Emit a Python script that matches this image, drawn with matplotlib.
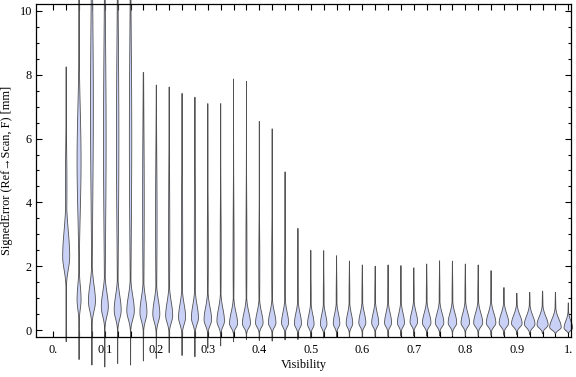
import numpy as np
import matplotlib
matplotlib.use("Agg")
import matplotlib.pyplot as plt
from matplotlib.ticker import FixedLocator, MultipleLocator

# ---------------- data ----------------
visibility = [0.025, 0.05, 0.075, 0.1, 0.125, 0.15, 0.175, 0.2, 0.225, 0.25,
              0.275, 0.3, 0.325, 0.35, 0.375, 0.4, 0.425, 0.45, 0.475, 0.5,
              0.525, 0.55, 0.575, 0.6, 0.625, 0.65, 0.675, 0.7, 0.725, 0.75,
              0.775, 0.8, 0.825, 0.85, 0.875, 0.9, 0.925, 0.95, 0.975, 1.0]
# extreme values (tails)
err_max = [8.25, 13.0, 13.0, 13.0, 13.0, 13.0, 8.07, 7.68, 7.62, 7.42,
           7.30, 7.10, 7.10, 7.87, 7.80, 6.54, 6.31, 4.96, 3.19, 2.50,
           2.49, 2.33, 2.16, 2.04, 2.00, 2.04, 2.02, 1.95, 2.07, 2.17,
           2.16, 2.07, 2.04, 1.86, 1.33, 1.15, 1.18, 1.22, 1.18, 0.85]
err_min = [-0.37, -0.93, -1.10, -1.16, -1.05, -1.10, -0.97, -0.89, -0.71, -0.80,
           -0.84, -0.57, -0.50, -0.37, -0.30, -0.33, -0.35, -0.31, -0.30, -0.26,
           -0.25, -0.23, -0.22, -0.22, -0.20, -0.20, -0.19, -0.19, -0.19, -0.18,
           -0.18, -0.18, -0.18, -0.17, -0.17, -0.15, -0.15, -0.12, -0.10, -0.08]
# main density mode and its relative density
err_mode = [2.3, 0.95, 0.9, 0.72, 0.62, 0.6, 0.55, 0.5, 0.45, 0.4,
            0.38, 0.32, 0.28, 0.2, 0.2, 0.22, 0.22, 0.22, 0.2, 0.18,
            0.18, 0.2, 0.2, 0.22, 0.22, 0.22, 0.22, 0.25, 0.22, 0.22,
            0.22, 0.22, 0.22, 0.22, 0.22, 0.2, 0.18, 0.16, 0.08, 0.06]
mode_density = [7, 4, 7, 7, 7, 7.5, 7, 7, 7, 7,
                7, 7.5, 7.5, 8, 8, 7.5, 7.5, 7, 7, 6.5,
                6.5, 6.5, 6.5, 7, 7, 7, 7, 7.5, 8.5, 8.5,
                8.5, 8.5, 9, 9.5, 9.5, 10.5, 10.5, 11, 11.5, 8.5]
spread_up = [0.8, 0.45, 0.5, 0.45, 0.45, 0.45, 0.45, 0.42, 0.42, 0.4,
             0.4, 0.38, 0.38, 0.35, 0.35, 0.33, 0.33, 0.33, 0.32, 0.3,
             0.3, 0.3, 0.3, 0.3, 0.3, 0.3, 0.3, 0.3, 0.3, 0.3,
             0.3, 0.3, 0.3, 0.3, 0.28, 0.26, 0.26, 0.26, 0.26, 0.22]
spread_down = [0.4, 0.3, 0.3, 0.28, 0.26, 0.26, 0.25, 0.24, 0.22, 0.22,
               0.2, 0.18, 0.17, 0.13, 0.13, 0.13, 0.13, 0.13, 0.13, 0.12,
               0.12, 0.12, 0.12, 0.12, 0.12, 0.12, 0.12, 0.12, 0.12, 0.12,
               0.12, 0.12, 0.12, 0.12, 0.12, 0.11, 0.11, 0.1, 0.08, 0.07]
# secondary (upper) body of the distribution
body_center = [4.5, 5.3, 7.0, 6.0, 6.0, 6.0, 4.0, 3.5, 3.0, 3.0,
               3.0, 2.5, 2.5, 2.5, 2.5, 2.0, 2.0, 1.5, 1.0, 1.0,
               1.0, 1.0, 1.0, 1.0, 1.0, 1.0, 1.0, 1.0, 1.0, 1.0,
               1.0, 1.0, 1.0, 1.0, 0.8, 0.7, 0.7, 0.7, 0.6, 0.5]
body_density = [1.5, 4.0, 2.8, 2.6, 2.4, 2.4, 1.6, 1.5, 1.2, 1.2,
                1.2, 1.0, 1.0, 1.0, 1.0, 1.0, 1.0, 1.0, 0.8, 0.8,
                0.8, 0.8, 0.8, 0.8, 0.8, 0.8, 0.8, 0.8, 0.8, 0.8,
                0.8, 0.8, 0.8, 0.8, 0.8, 0.8, 0.8, 0.8, 0.8, 0.6]
body_spread = [1.2, 1.6, 3.0, 3.0, 3.0, 3.0, 2.5, 2.0, 2.0, 2.0,
               2.0, 1.5, 1.5, 1.5, 1.5, 1.2, 1.2, 1.0, 0.6, 0.6,
               0.6, 0.6, 0.6, 0.6, 0.6, 0.6, 0.6, 0.6, 0.6, 0.6,
               0.6, 0.6, 0.6, 0.6, 0.4, 0.35, 0.35, 0.35, 0.35, 0.3]

x_ticks = [0.0, 0.025, 0.05, 0.075, 0.1, 0.125, 0.15, 0.175, 0.2, 0.225,
           0.25, 0.275, 0.3, 0.325, 0.35, 0.375, 0.4, 0.425, 0.45, 0.475,
           0.5, 0.525, 0.55, 0.575, 0.6, 0.625, 0.65, 0.675, 0.7, 0.725,
           0.75, 0.775, 0.8, 0.825, 0.85, 0.875, 0.9, 0.925, 0.95, 0.975, 1.0]
x_labels = {0.0: "0.", 0.1: "0.1", 0.2: "0.2", 0.3: "0.3", 0.4: "0.4",
            0.5: "0.5", 0.6: "0.6", 0.7: "0.7", 0.8: "0.8", 0.9: "0.9", 1.0: "1."}
y_ticks = [0, 2, 4, 6, 8, 10]

# ---------------- drawing ----------------
FILL = "#cad1f7"
EDGE = "#505050"
FONT = ["Liberation Serif", "DejaVu Serif"]
plt.rcParams["font.family"] = FONT

fig = plt.figure(figsize=(5.76, 3.77), dpi=100)
ax = fig.add_axes([36 / 576, 1 - 337 / 377, 535 / 576, 333 / 377])
xlim = (-0.0336, 1.0052)
ylim = (-0.219, 10.219)
ax.set_xlim(*xlim)
ax.set_ylim(*ylim)

# convert density "pixel" widths to data units
px_per_x = ax.get_position().width * fig.get_figwidth() * fig.dpi / (xlim[1] - xlim[0])
scale = 0.5 / px_per_x

for i, xc in enumerate(visibility):
    y = np.linspace(err_min[i], err_max[i], 900)
    s = np.where(y < err_mode[i], spread_down[i], spread_up[i])
    g1 = mode_density[i] * np.exp(-0.5 * ((y - err_mode[i]) / s) ** 2)
    g2 = body_density[i] * np.exp(-0.5 * ((y - body_center[i]) / body_spread[i]) ** 2)
    hw = np.maximum(g1, g2) * scale
    xs = np.concatenate([xc - hw, (xc + hw)[::-1]])
    ys = np.concatenate([y, y[::-1]])
    ax.fill(xs, ys, facecolor=FILL, edgecolor=EDGE, linewidth=0.6,
            clip_on=False, zorder=2)

for sp in ax.spines.values():
    sp.set_linewidth(0.9)
    sp.set_zorder(3)

ax.xaxis.set_major_locator(FixedLocator(x_ticks))
ax.set_xticklabels([x_labels.get(round(t, 3), "") for t in x_ticks])
ax.yaxis.set_major_locator(FixedLocator(y_ticks))
ax.yaxis.set_minor_locator(MultipleLocator(0.5))
ax.tick_params(axis="both", which="both", direction="in", top=True, right=True,
               width=0.8, colors="black", labelsize=8.8)
ax.tick_params(axis="x", which="major", length=4, pad=5)
ax.tick_params(axis="y", which="major", length=4, pad=3)
ax.tick_params(axis="y", which="minor", length=2.4)
ax.tick_params(axis="x", which="minor", length=0)

ax.set_xlabel("Visibility", fontsize=8.8, labelpad=2)
ax.set_ylabel("SignedError (Ref\u2192Scan, F) [mm]", fontsize=8.8, labelpad=5)

fig.savefig("out.png", dpi=100)
